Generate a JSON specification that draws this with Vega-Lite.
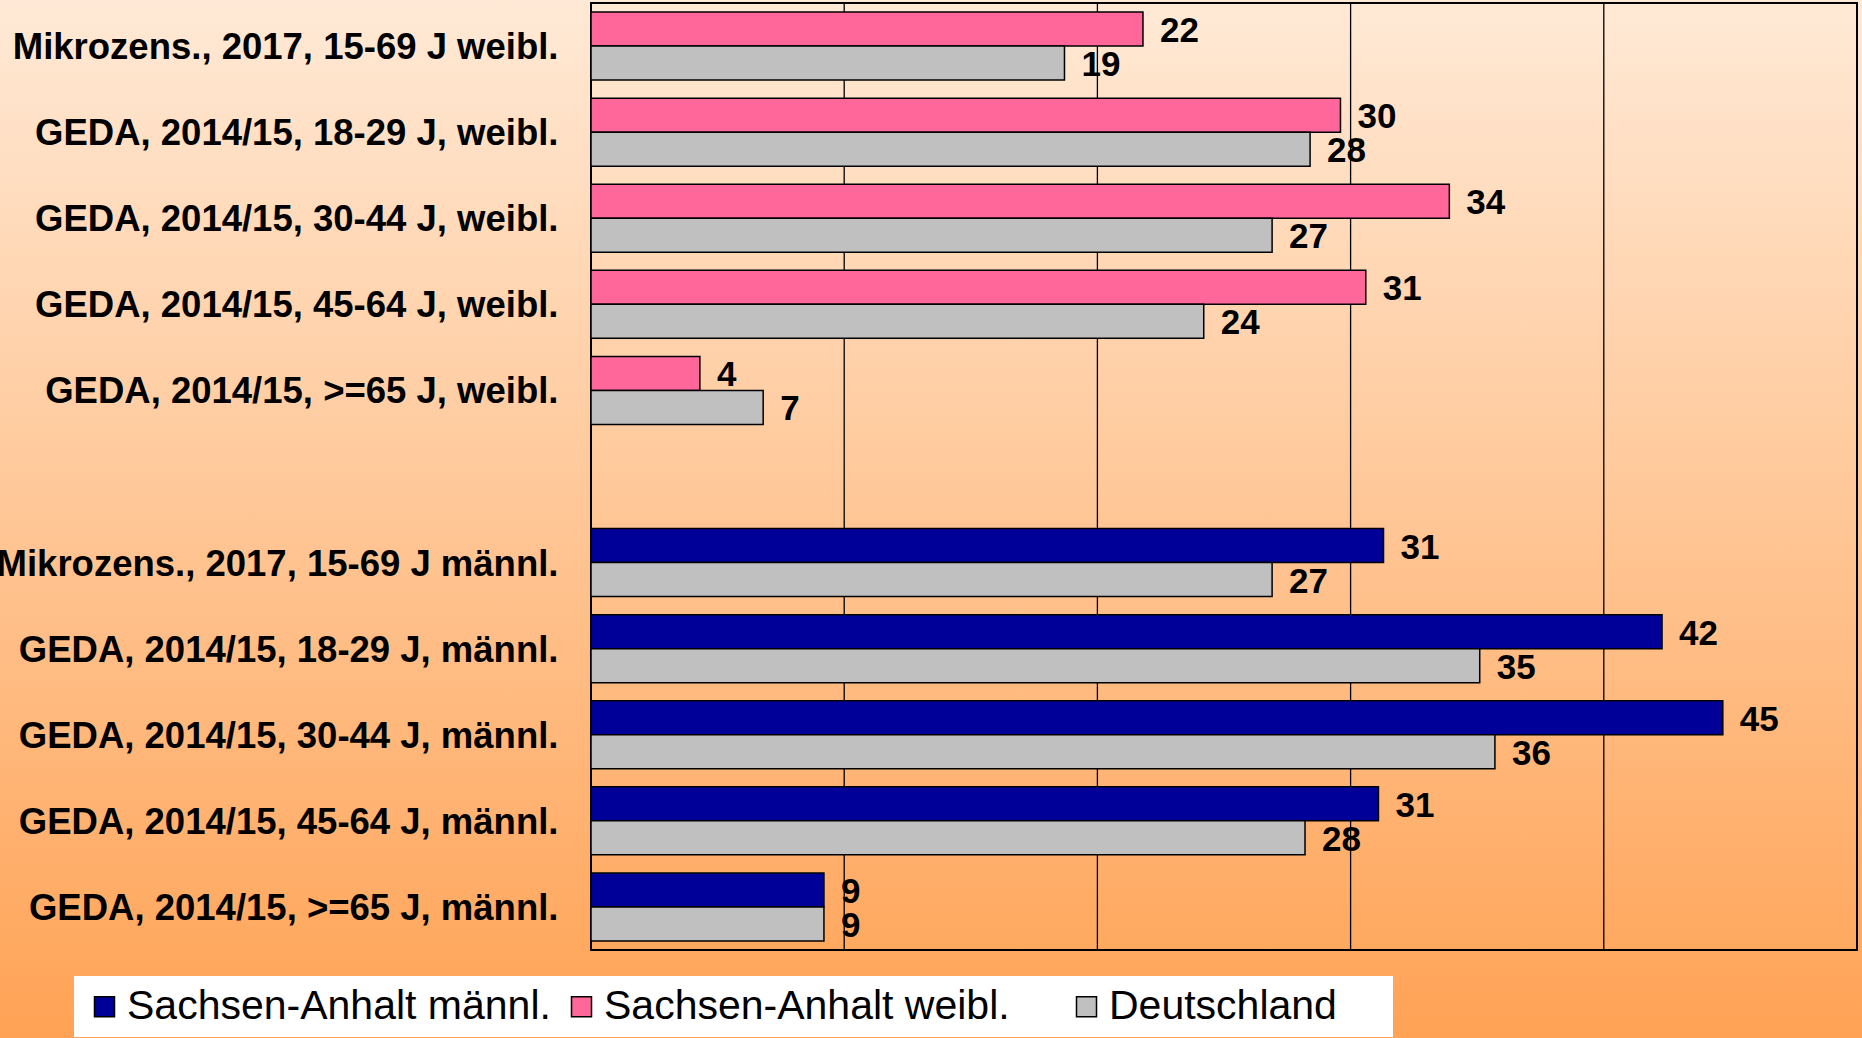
{
  "$schema": "https://vega.github.io/schema/vega-lite/v6.json",
  "width": 1266,
  "height": 947,
  "autosize": {"type": "none"},
  "padding": {"left": 591, "top": 3, "right": 5, "bottom": 88},
  "background": "#FFA255",
  "config": {
    "view": {"stroke": null},
    "font": "Liberation Sans"
  },
  "resolve": {"scale": {"y": "independent"}},
  "layer": [
    {
      "data": {"values": [{"Teil": "Hintergrund"}]},
      "layer": [
        {
          "mark": {
            "type": "rect",
            "fill": {
              "gradient": "linear",
              "x1": 0, "y1": 0, "x2": 0, "y2": 1,
              "stops": [
                {"offset": 0, "color": "#FFEAD7"},
                {"offset": 1, "color": "#FFA254"}
              ]
            }
          },
          "encoding": {
            "x": {"datum": -23.6, "type": "quantitative", "scale": {"domain": [0, 50], "nice": false, "zero": false}, "axis": null},
            "x2": {"datum": 50.5},
            "y": {"datum": 1.01, "type": "quantitative", "scale": {"domain": [0, 1], "nice": false, "zero": false}, "axis": null},
            "y2": {"datum": -0.1}
          }
        },
        {
          "mark": {"type": "rect", "fillOpacity": 0, "stroke": "black", "strokeWidth": 2},
          "encoding": {
            "x": {"datum": 0, "type": "quantitative", "scale": {"domain": [0, 50], "nice": false, "zero": false}, "axis": null},
            "x2": {"datum": 50},
            "y": {"datum": 0, "type": "quantitative", "scale": {"domain": [0, 1], "nice": false, "zero": false}, "axis": null},
            "y2": {"datum": 1}
          }
        }
      ]
    },
    {
      "data": {
        "values": [
          {"Kategorie": "Mikrozens., 2017, 15-69 J weibl.", "Reihe": "Sachsen-Anhalt weibl.", "Region": "Sachsen-Anhalt", "Wert": 21.8},
          {"Kategorie": "Mikrozens., 2017, 15-69 J weibl.", "Reihe": "Deutschland", "Region": "Deutschland", "Wert": 18.7},
          {"Kategorie": "GEDA, 2014/15, 18-29 J, weibl.", "Reihe": "Sachsen-Anhalt weibl.", "Region": "Sachsen-Anhalt", "Wert": 29.6},
          {"Kategorie": "GEDA, 2014/15, 18-29 J, weibl.", "Reihe": "Deutschland", "Region": "Deutschland", "Wert": 28.4},
          {"Kategorie": "GEDA, 2014/15, 30-44 J, weibl.", "Reihe": "Sachsen-Anhalt weibl.", "Region": "Sachsen-Anhalt", "Wert": 33.9},
          {"Kategorie": "GEDA, 2014/15, 30-44 J, weibl.", "Reihe": "Deutschland", "Region": "Deutschland", "Wert": 26.9},
          {"Kategorie": "GEDA, 2014/15, 45-64 J, weibl.", "Reihe": "Sachsen-Anhalt weibl.", "Region": "Sachsen-Anhalt", "Wert": 30.6},
          {"Kategorie": "GEDA, 2014/15, 45-64 J, weibl.", "Reihe": "Deutschland", "Region": "Deutschland", "Wert": 24.2},
          {"Kategorie": "GEDA, 2014/15, >=65 J, weibl.", "Reihe": "Sachsen-Anhalt weibl.", "Region": "Sachsen-Anhalt", "Wert": 4.3},
          {"Kategorie": "GEDA, 2014/15, >=65 J, weibl.", "Reihe": "Deutschland", "Region": "Deutschland", "Wert": 6.8},
          {"Kategorie": "Mikrozens., 2017, 15-69 J männl.", "Reihe": "Sachsen-Anhalt männl.", "Region": "Sachsen-Anhalt", "Wert": 31.3},
          {"Kategorie": "Mikrozens., 2017, 15-69 J männl.", "Reihe": "Deutschland", "Region": "Deutschland", "Wert": 26.9},
          {"Kategorie": "GEDA, 2014/15, 18-29 J, männl.", "Reihe": "Sachsen-Anhalt männl.", "Region": "Sachsen-Anhalt", "Wert": 42.3},
          {"Kategorie": "GEDA, 2014/15, 18-29 J, männl.", "Reihe": "Deutschland", "Region": "Deutschland", "Wert": 35.1},
          {"Kategorie": "GEDA, 2014/15, 30-44 J, männl.", "Reihe": "Sachsen-Anhalt männl.", "Region": "Sachsen-Anhalt", "Wert": 44.7},
          {"Kategorie": "GEDA, 2014/15, 30-44 J, männl.", "Reihe": "Deutschland", "Region": "Deutschland", "Wert": 35.7},
          {"Kategorie": "GEDA, 2014/15, 45-64 J, männl.", "Reihe": "Sachsen-Anhalt männl.", "Region": "Sachsen-Anhalt", "Wert": 31.1},
          {"Kategorie": "GEDA, 2014/15, 45-64 J, männl.", "Reihe": "Deutschland", "Region": "Deutschland", "Wert": 28.2},
          {"Kategorie": "GEDA, 2014/15, >=65 J, männl.", "Reihe": "Sachsen-Anhalt männl.", "Region": "Sachsen-Anhalt", "Wert": 9.2},
          {"Kategorie": "GEDA, 2014/15, >=65 J, männl.", "Reihe": "Deutschland", "Region": "Deutschland", "Wert": 9.2}
        ]
      },
      "layer": [
        {
          "data": {"values": [{"Gitter": 10}, {"Gitter": 20}, {"Gitter": 30}, {"Gitter": 40}]},
          "mark": {"type": "rule", "color": "black", "strokeWidth": 1.3},
          "encoding": {
            "x": {"field": "Gitter", "type": "quantitative", "scale": {"domain": [0, 50], "nice": false, "zero": false}, "axis": null}
          }
        },
        {
          "mark": {"type": "bar", "stroke": "black", "strokeWidth": 1.5},
          "encoding": {
            "y": {
              "field": "Kategorie", "type": "nominal",
              "scale": {
                "domain": [
                  "Mikrozens., 2017, 15-69 J weibl.",
                  "GEDA, 2014/15, 18-29 J, weibl.",
                  "GEDA, 2014/15, 30-44 J, weibl.",
                  "GEDA, 2014/15, 45-64 J, weibl.",
                  "GEDA, 2014/15, >=65 J, weibl.",
                  " ",
                  "Mikrozens., 2017, 15-69 J männl.",
                  "GEDA, 2014/15, 18-29 J, männl.",
                  "GEDA, 2014/15, 30-44 J, männl.",
                  "GEDA, 2014/15, 45-64 J, männl.",
                  "GEDA, 2014/15, >=65 J, männl."
                ],
                "paddingInner": 0.21,
                "paddingOuter": 0.105
              },
              "axis": {
                "title": null,
                "ticks": false,
                "domain": false,
                "labelFontSize": 36.5,
                "labelFontWeight": "bold",
                "labelColor": "black",
                "labelPadding": 33,
                "labelOffset": 2,
                "labelLimit": 1000,
                "zindex": 1
              }
            },
            "yOffset": {
              "field": "Region", "type": "nominal",
              "scale": {"domain": ["Sachsen-Anhalt", "Deutschland"], "paddingInner": 0, "paddingOuter": 0}
            },
            "x": {"field": "Wert", "type": "quantitative", "scale": {"domain": [0, 50], "nice": false, "zero": false}, "axis": null},
            "color": {
              "field": "Reihe", "type": "nominal",
              "scale": {
                "domain": ["Sachsen-Anhalt männl.", "Sachsen-Anhalt weibl.", "Deutschland"],
                "range": ["#000099", "#FF6699", "#C0C0C0"]
              },
              "legend": {
                "title": null,
                "orient": "none",
                "direction": "horizontal",
                "legendX": -517,
                "legendY": 973,
                "fillColor": "white",
                "padding": 10,
                "symbolType": "square",
                "symbolSize": 400,
                "symbolStrokeColor": "black",
                "symbolStrokeWidth": 1.5,
                "symbolOpacity": 1,
                "labelFontSize": 41,
                "labelColor": "black",
                "labelOffset": 2,
                "labelLimit": 1000,
                "columnPadding": 10,
                "labelExpr": "datum.label == 'Sachsen-Anhalt weibl.' ? datum.label + '\u00a0\u00a0\u00a0\u00a0\u200b' : (datum.label == 'Deutschland' ? datum.label + '\u00a0\u00a0\u00a0\u00a0\u200b' : datum.label)",
                "zindex": 1
              }
            }
          }
        },
        {
          "mark": {"type": "text", "align": "left", "baseline": "middle", "dx": 17, "dy": 2, "fontSize": 35, "fontWeight": "bold", "color": "black"},
          "encoding": {
            "y": {
              "field": "Kategorie", "type": "nominal",
              "scale": {
                "domain": [
                  "Mikrozens., 2017, 15-69 J weibl.",
                  "GEDA, 2014/15, 18-29 J, weibl.",
                  "GEDA, 2014/15, 30-44 J, weibl.",
                  "GEDA, 2014/15, 45-64 J, weibl.",
                  "GEDA, 2014/15, >=65 J, weibl.",
                  " ",
                  "Mikrozens., 2017, 15-69 J männl.",
                  "GEDA, 2014/15, 18-29 J, männl.",
                  "GEDA, 2014/15, 30-44 J, männl.",
                  "GEDA, 2014/15, 45-64 J, männl.",
                  "GEDA, 2014/15, >=65 J, männl."
                ],
                "paddingInner": 0.21,
                "paddingOuter": 0.105
              }
            },
            "yOffset": {"field": "Region", "type": "nominal"},
            "x": {"field": "Wert", "type": "quantitative", "scale": {"domain": [0, 50], "nice": false, "zero": false}, "axis": null},
            "text": {"field": "Wert", "type": "quantitative", "format": ".0f"}
          }
        }
      ]
    }
  ]
}
